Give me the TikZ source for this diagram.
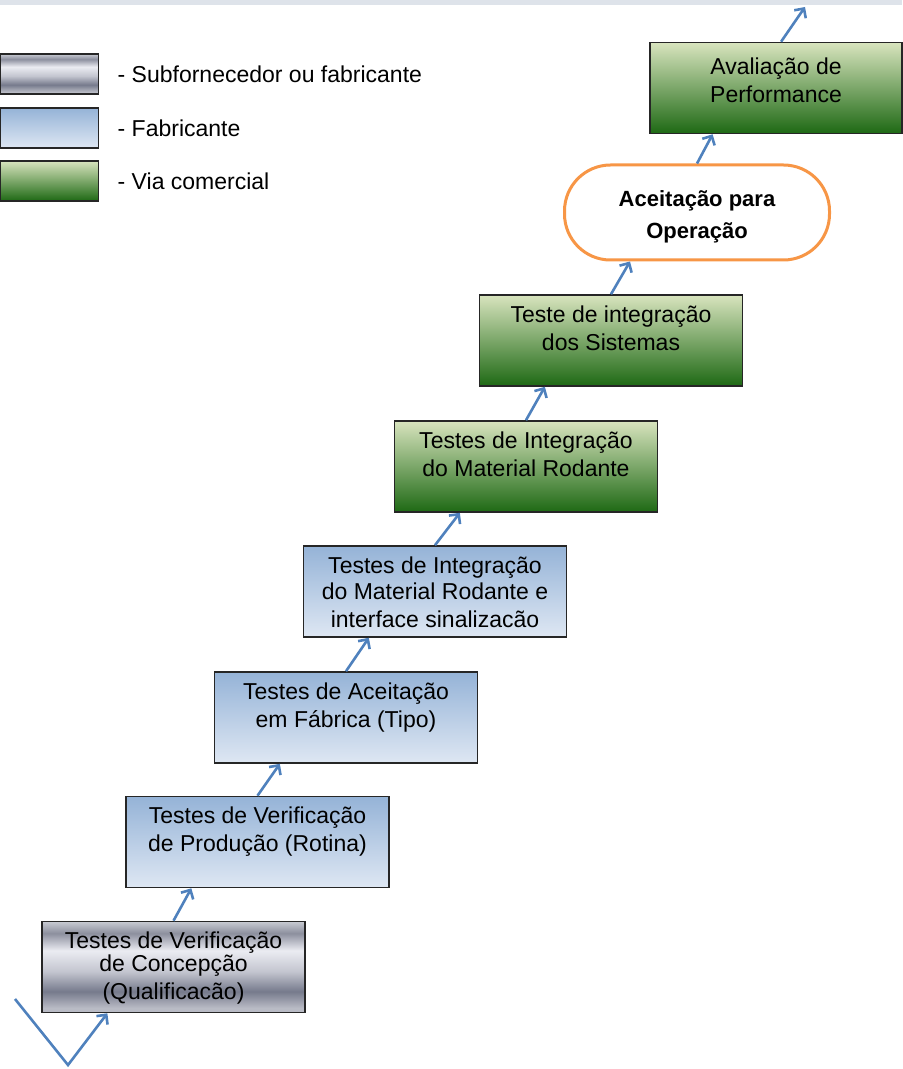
\documentclass[tikz,border=0pt]{standalone}
\usepackage{fontspec}
\setmainfont{Liberation Sans}
\usetikzlibrary{arrows.meta, positioning, calc}
\definecolor{azarrow}{RGB}{79, 129, 189}
\definecolor{azorange}{RGB}{247, 150, 70}
\definecolor{azbluetop}{RGB}{149, 179, 215}
\definecolor{azbluebot}{RGB}{222, 231, 243}
\definecolor{azgreentop}{RGB}{216, 228, 190}
\definecolor{azgreenbot}{RGB}{30, 105, 20}
\definecolor{azband}{RGB}{222, 227, 234}
\definecolor{chromeA}{RGB}{200, 202, 210}
\definecolor{chromeB}{RGB}{140, 143, 158}
\definecolor{chromeC}{RGB}{235, 236, 242}
\definecolor{chromeD}{RGB}{195, 197, 207}
\definecolor{chromeE}{RGB}{118, 122, 140}
\definecolor{chromeF}{RGB}{185, 187, 197}
% metallic grey, stops given from bottom (25bp) to top (75bp)
\pgfdeclareverticalshading{chrome}{100bp}{color(0bp)=(chromeF); color(25bp)=(chromeF);
  color(27.5bp)=(chromeF); color(36.5bp)=(chromeE); color(47.5bp)=(chromeD);
  color(59bp)=(chromeC); color(68.5bp)=(chromeB); color(75bp)=(chromeA); color(100bp)=(chromeA)}

\begin{document}
\begin{tikzpicture}[x=0.5pt, y=-0.5pt,
  toptext/.style={execute at begin node={\begin{minipage}[c][#1][t]{122pt}\centering},
    execute at end node={\end{minipage}}},
  tst/.style={draw=black!85, line width=0.8pt, minimum width=131.5pt, minimum height=45.5pt,
    inner sep=2pt, font=\fontsize{11.5}{14}\selectfont, toptext=35pt},
  sub/.style={tst, shading=chrome},
  fab/.style={tst, top color=azbluetop, bottom color=azbluebot},
  via/.style={tst, top color=azgreentop, bottom color=azgreenbot},
  opr/.style={draw=azorange, line width=1.5pt, fill=white, rounded corners=23pt, minimum width=132.5pt,
    minimum height=47.5pt, inner sep=2pt, font=\bfseries\fontsize{11}{16}\selectfont, toptext=21.5pt},
  leg/.style={draw=black!85, line width=0.8pt, minimum width=49pt, minimum height=20pt, inner sep=0pt},
  legtxt/.style={font=\fontsize{11.5}{14}\selectfont, inner sep=2pt, right=7pt of #1},
  arr/.style={-{Straight Barb[length=3.5pt, width=7pt]}, line width=1.3pt, azarrow},
]
  \useasboundingbox (0,0) rectangle (902,1069);
  \fill[azband] (0,0) rectangle (902,5);

  % legend
  \node[leg, shading=chrome] (lg1) at (49.5,74) {};
  \node[leg, top color=azbluetop, bottom color=azbluebot] (lg2) at (49.5,128) {};
  \node[leg, top color=azgreentop, bottom color=azgreenbot] (lg3) at (49.5,181) {};
  \node[legtxt=lg1] (lt1) {- Subfornecedor ou fabricante};
  \node[legtxt=lg2] (lt2) {- Fabricante};
  \node[legtxt=lg3] (lt3) {- Via comercial};

  % test stages
  \node[sub] (t1) at (173.5,967) {\fontsize{11.5}{11.5}\selectfont Testes de Verificação\\de Concepção\\(Qualificacão)};
  \node[fab] (t2) at (257.5,842) {Testes de Verificação\\de Produção (Rotina)};
  \node[fab] (t3) at (346,717.5) {Testes de Aceitação\\em Fábrica (Tipo)};
  \node[fab] (t4) at (435,591.5) {\fontsize{11.5}{13}\selectfont Testes de Integração\\do Material Rodante e\\interface sinalizacão};
  \node[via] (t5) at (526,466.5) {Testes de Integração\\do Material Rodante};
  \node[via] (t6) at (611,340.5) {Teste de integração\\dos Sistemas};
  \node[opr] (op) at (697,212.5) {Aceitação para\\Operação};
  \node[via, minimum width=124pt] (t7) at (776,88) {\vspace*{2.5pt}\fontsize{11.5}{14.5}\selectfont Avaliação de\\Performance};

  \coordinate (vs) at (15,999);
  \coordinate (vb) at (68,1065);
  \coordinate (topend) at (805,7);

  \draw[arr] (vs) -- (vb) -- ($(t1.south west)!0.25!(t1.south east)$);
  \draw[arr] (t1.north) -- ($(t2.south west)!0.25!(t2.south east)$);
  \draw[arr] (t2.north) -- ($(t3.south west)!0.25!(t3.south east)$);
  \draw[arr] (t3.north) -- ($(t4.south west)!0.25!(t4.south east)$);
  \draw[arr] (t4.north) -- ($(t5.south west)!0.25!(t5.south east)$);
  \draw[arr] (t5.north) -- ($(t6.south west)!0.25!(t6.south east)$);
  \draw[arr] (t6.north) -- ($(op.south west)!0.25!(op.south east)$);
  \draw[arr] (op.north) -- ($(t7.south west)!0.25!(t7.south east)$);
  \draw[arr] ($(t7.north west)!0.52!(t7.north east)$) -- (topend);
\end{tikzpicture}
\end{document}
